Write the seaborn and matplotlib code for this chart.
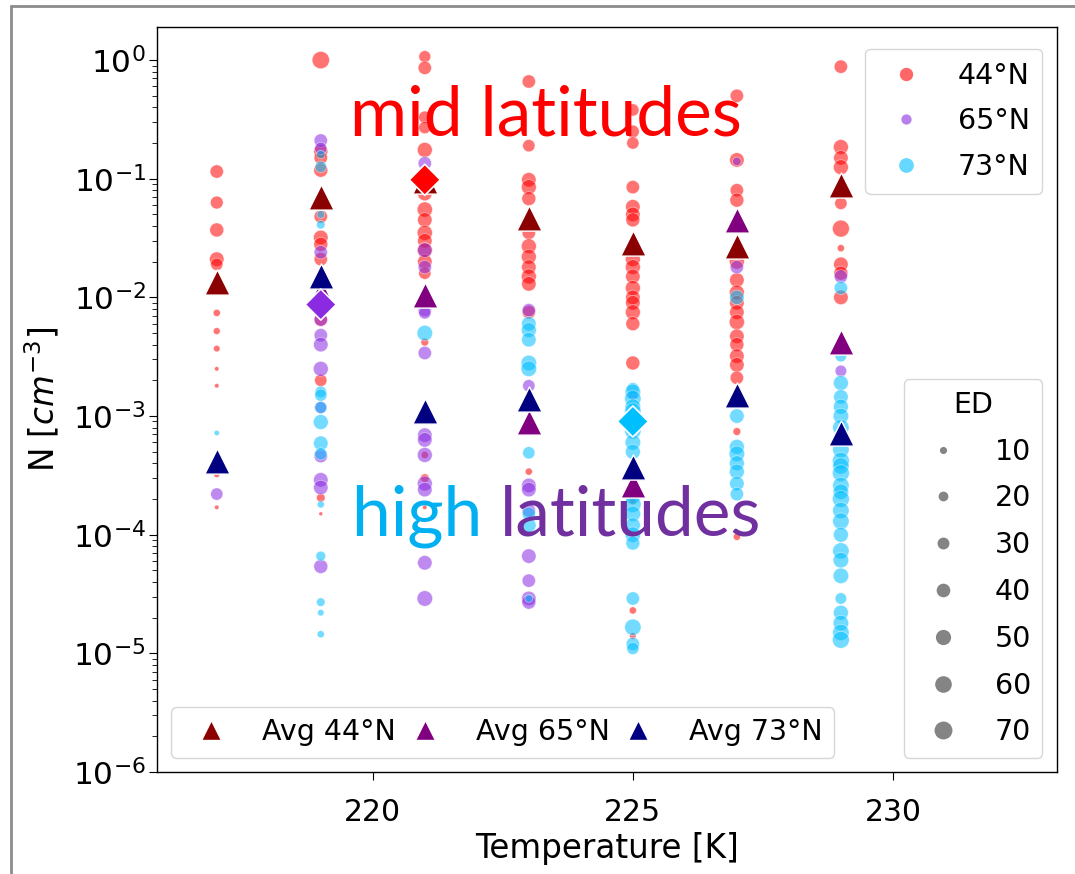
import matplotlib
matplotlib.use("Agg")
import numpy as np
import pandas as pd
import matplotlib.pyplot as plt
from matplotlib.lines import Line2D
import seaborn as sns

# ---------------- data ----------------
lats = ["44°N", "65°N", "73°N"]
lat_colors = {"44°N": "red", "65°N": "blueviolet", "73°N": "deepskyblue"}
avg_colors = {"44°N": "darkred", "65°N": "purple", "73°N": "navy"}

# temperature -> (N values, ED values)
pts_44 = {
    217: ([0.115, 0.063, 0.037, 0.021, 0.019, 0.0074, 0.0052, 0.0037, 0.0025, 0.0018, 3.2e-4, 1.7e-4],
          [38, 35, 42, 45, 32, 10, 9, 8, 3, 3, 6, 3]),
    219: ([1.0, 0.17, 0.15, 0.118, 0.048, 0.032, 0.028, 0.021, 0.0065, 0.002, 2.05e-4, 1.5e-4],
          [65, 42, 38, 42, 38, 45, 42, 38, 38, 32, 15, 2]),
    221: ([1.07, 0.86, 0.33, 0.27, 0.175, 0.075, 0.055, 0.045, 0.035, 0.03, 0.025, 0.02, 0.016,
           0.0042, 4.7e-4, 3.0e-4, 1.7e-4],
          [30, 38, 32, 32, 48, 45, 50, 45, 50, 45, 50, 45, 32, 12, 10, 15, 3]),
    223: ([0.66, 0.19, 0.098, 0.085, 0.068, 0.035, 0.027, 0.022, 0.018, 0.015, 0.013, 0.0075, 3.4e-4],
          [38, 32, 45, 48, 42, 38, 48, 48, 45, 48, 45, 38, 10]),
    225: ([0.38, 0.25, 0.2, 0.085, 0.058, 0.05, 0.045, 0.021, 0.018, 0.015, 0.012, 0.01, 0.009,
           0.0075, 0.006, 0.0028, 1.9e-4, 2.3e-5, 1.4e-5],
          [32, 35, 32, 38, 45, 45, 42, 48, 48, 45, 48, 45, 45, 48, 42, 42, 8, 10, 8]),
    227: ([0.5, 0.144, 0.08, 0.066, 0.02, 0.014, 0.011, 0.009, 0.0075, 0.0062, 0.0047, 0.004, 0.0032,
           0.0027, 0.0021, 7.4e-4, 9.6e-5],
          [38, 45, 38, 42, 48, 45, 48, 45, 45, 50, 45, 42, 45, 45, 38, 12, 10]),
    229: ([0.88, 0.185, 0.15, 0.125, 0.062, 0.038, 0.026, 0.019, 0.016, 0.01],
          [38, 48, 45, 48, 32, 62, 10, 45, 42, 45]),
}
pts_65 = {
    217: ([2.2e-4], [32]),
    219: ([0.21, 0.18, 0.024, 0.0065, 0.0048, 0.004, 0.0025, 0.00118, 4.6e-4, 2.9e-4, 2.5e-4, 5.4e-5],
          [38, 32, 38, 38, 38, 45, 48, 32, 38, 45, 45, 42]),
    221: ([0.135, 0.025, 0.018, 0.0078, 0.0074, 0.0034, 6.9e-4, 6.3e-4, 4.7e-4, 2.7e-4, 2.4e-4, 5.8e-5, 2.9e-5],
          [38, 45, 38, 38, 32, 38, 45, 45, 48, 48, 45, 45, 52]),
    223: ([0.0078, 0.0018, 2.6e-4, 2.4e-4, 1.6e-4, 6.6e-5, 4.1e-5, 2.9e-5, 2.7e-5],
          [38, 32, 45, 45, 38, 45, 38, 45, 42]),
    225: ([1.5e-3, 2.5e-4], [20, 20]),
    227: ([0.14, 0.018], [15, 38]),
    229: ([0.015, 0.0024], [38, 28]),
}
pts_73 = {
    217: ([7.2e-4], [5]),
    219: ([0.16, 0.126, 0.05, 0.041, 0.0016, 0.0015, 0.00118, 8.9e-4, 5.9e-4, 4.8e-4, 1.8e-4, 6.6e-5,
           2.7e-5, 2.2e-5, 1.45e-5],
          [15, 28, 12, 15, 28, 32, 30, 48, 45, 32, 10, 20, 15, 8, 10]),
    221: ([0.005], [52]),
    223: ([0.006, 0.0053, 0.0044, 0.0028, 0.0025, 4.9e-4, 1.5e-4, 1.2e-4, 2.9e-5],
          [45, 48, 45, 52, 52, 32, 38, 45, 12]),
    225: ([0.0017, 1.6e-3, 1.4e-3, 1.2e-3, 1.1e-3, 9e-4, 7.5e-4, 6e-4, 5e-4, 2.1e-4, 1.8e-4, 1.5e-4,
           1.2e-4, 1.0e-4, 8.5e-5, 2.9e-5, 1.66e-5, 1.2e-5, 1.1e-5],
          [32, 52, 58, 52, 58, 52, 58, 52, 48, 52, 58, 52, 48, 52, 42, 38, 58, 38, 32]),
    227: ([0.01, 1e-3, 5.5e-4, 4.8e-4, 4e-4, 3.4e-4, 2.7e-4, 2.2e-4],
          [45, 45, 48, 52, 48, 48, 45, 38]),
    229: ([0.012, 3.2e-3, 1.9e-3, 1.45e-3, 1.2e-3, 1e-3, 8e-4, 6.5e-4, 5.2e-4, 4.2e-4, 3.8e-4, 3.3e-4,
           2.6e-4, 2.3e-4, 2.0e-4, 1.6e-4, 1.3e-4, 1e-4, 7.3e-5, 6.1e-5, 4.5e-5, 2.9e-5, 2.2e-5,
           1.8e-5, 1.5e-5, 1.3e-5],
          [38, 28, 48, 45, 48, 52, 58, 52, 58, 62, 58, 62, 58, 52, 62, 58, 58, 48, 58, 52, 52, 28,
           48, 52, 58, 62]),
}

avg_temps = [217, 219, 221, 223, 225, 227, 229]
avg_44 = [0.0136, 0.070, 0.095, 0.047, 0.029, 0.027, 0.089]
avg_65 = [np.nan, 0.011, 0.0105, 8.9e-4, 2.6e-4, 0.045, 0.0042]
avg_73 = [4.2e-4, 0.015, 1.1e-3, 1.4e-3, 3.7e-4, 1.5e-3, 7.2e-4]

diamond_T = [221, 219, 225]
diamond_N = [0.098, 0.0087, 9e-4]
diamond_lat = ["44°N", "65°N", "73°N"]

ed_legend_vals = [10, 20, 30, 40, 50, 60, 70]

# ---------------- build table ----------------
rows = []
for lat, pts in zip(lats, [pts_44, pts_65, pts_73]):
    for t, (ns, eds) in pts.items():
        for n, e in zip(ns, eds):
            rows.append({"T": t, "N": n, "ED": e, "lat": lat})
df = pd.DataFrame(rows)

sns.set_style("ticks")
plt.rcParams["font.family"] = ["DejaVu Sans"]
plt.rcParams["text.color"] = "black"
plt.rcParams["axes.labelcolor"] = "black"
plt.rcParams["xtick.color"] = "black"
plt.rcParams["ytick.color"] = "black"
plt.rcParams["axes.edgecolor"] = "black"

SIZES = (3, 190)
SNORM = (0, 80)

def ed_to_s(e):
    return SIZES[0] + (e - SNORM[0]) / (SNORM[1] - SNORM[0]) * (SIZES[1] - SIZES[0])

fig = plt.figure(figsize=(10.75, 8.74), dpi=100)
ax = fig.add_axes([0.146, 0.1167, 0.837, 0.8524])

sns.scatterplot(data=df, x="T", y="N", hue="lat", hue_order=lats, palette=lat_colors,
                size="ED", sizes=SIZES, size_norm=SNORM, alpha=0.55,
                edgecolor="white", linewidth=0.5, legend=False, ax=ax)

for lat, av in zip(lats, [avg_44, avg_65, avg_73]):
    sns.scatterplot(x=avg_temps, y=av, marker="^", s=330, color=avg_colors[lat],
                    edgecolor="white", linewidth=1.0, legend=False, ax=ax, zorder=3)

sns.scatterplot(x=diamond_T, y=diamond_N, hue=diamond_lat, palette=lat_colors, marker="D",
                s=250, edgecolor="white", linewidth=1.2, legend=False, ax=ax, zorder=4)

ax.set_yscale("log")
ax.set_xlim(215.85, 233.15)
ax.set_ylim(1e-6, 1.9)
ax.set_xticks([220, 225, 230])
ax.tick_params(axis="x", which="major", labelsize=21.5, length=6, pad=13)
ax.tick_params(axis="y", which="major", labelsize=22.5, length=6, pad=2)
ax.tick_params(axis="y", which="minor", length=3.5)
for sp in ax.spines.values():
    sp.set_linewidth(1.0)
ax.set_xlabel("Temperature [K]", fontsize=23.5, labelpad=3)
ax.set_ylabel("N [$cm^{-3}$]", fontsize=23.5, labelpad=8)

# legends
LFS = 20.5
lat_ms = {"44°N": 9.6, "65°N": 7.4, "73°N": 10.6}
lat_handles = [Line2D([], [], ls="none", marker="o", ms=lat_ms[l], color=lat_colors[l],
                      alpha=0.6, mec="none", label=l) for l in lats]
leg1 = ax.legend(handles=lat_handles, loc="upper right", fontsize=LFS, labelspacing=0.63,
                 borderpad=0.45, bbox_to_anchor=(1.0, 0.99))
ax.add_artist(leg1)

ed_handles = [Line2D([], [], ls="none", marker="o", ms=np.sqrt(ed_to_s(e)), color=".2",
                     alpha=0.6, mec="none", label=str(e)) for e in ed_legend_vals]
leg2 = ax.legend(handles=ed_handles, loc="lower right", fontsize=LFS, title="ED",
                 title_fontsize=LFS, labelspacing=0.66)
ax.add_artist(leg2)

avg_handles = [Line2D([], [], ls="none", marker="^", ms=15, color=avg_colors[l],
                      mec="white", label="Avg " + l) for l in lats]
ax.legend(handles=avg_handles, loc="lower left", fontsize=LFS, ncol=3, columnspacing=0.0)

# annotations
TFS = 50
ax.text(0.214, 0.855, "mid latitudes", transform=ax.transAxes, color="#FF0000",
        fontsize=TFS, family="Lato", va="baseline", ha="left")
t_high = ax.text(0.2167, 0.318, "high ", transform=ax.transAxes, color="#00B0F0",
                 fontsize=TFS, family="Lato", va="baseline", ha="left")
fig.canvas.draw()
bb = t_high.get_window_extent(renderer=fig.canvas.get_renderer())
x_next = ax.transAxes.inverted().transform((bb.x1, bb.y0))[0]
ax.text(x_next, 0.318, "latitudes", transform=ax.transAxes, color="#7030A0",
        fontsize=TFS, family="Lato", va="baseline", ha="left")

# outer gray frame (top and left)
fig.add_artist(Line2D([11 / 1075, 1.0], [1 - 6 / 874, 1 - 6 / 874], transform=fig.transFigure,
                      color="#8c8c8c", lw=2))
fig.add_artist(Line2D([11 / 1075, 11 / 1075], [0, 1 - 6 / 874], transform=fig.transFigure,
                      color="#8c8c8c", lw=2))

fig.savefig("out.png", dpi=100)
